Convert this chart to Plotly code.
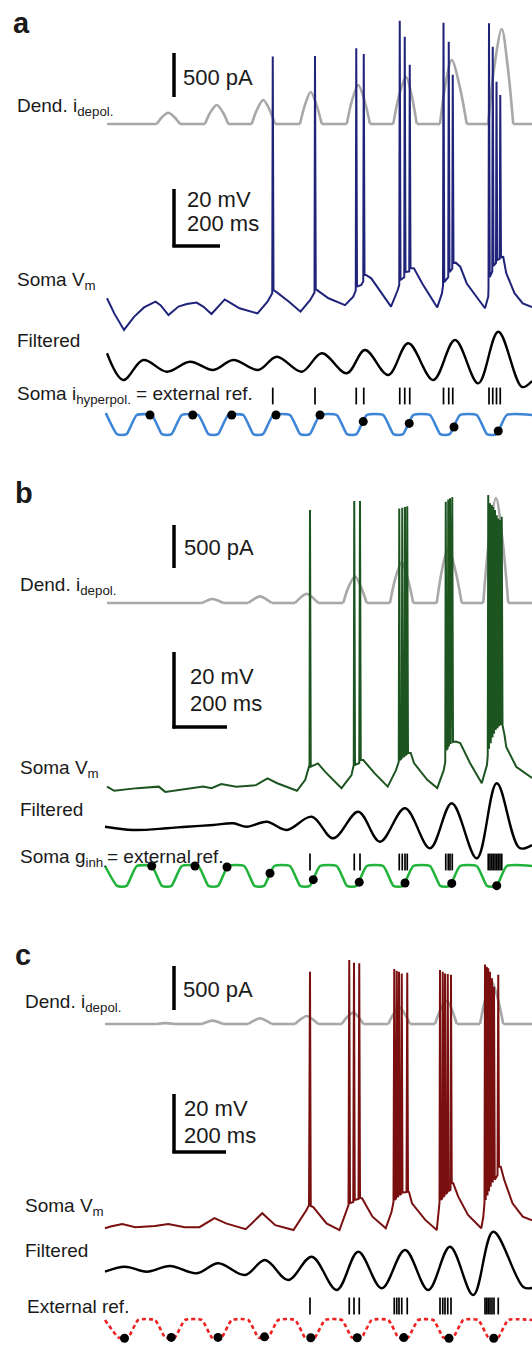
import plotly.graph_objects as go

W, H = 532, 1345
T_LEFT, T_RIGHT = -428, 1700          # ms at the left / right edge of the page

# ---------------- Panel a ----------------
DEND_A_T = [0, 199, 220, 245, 270, 292, 392, 413, 439, 464, 485, 579, 600, 625, 650, 672,
            772, 792, 815, 838, 859, 959, 980, 1005, 1030, 1052, 1145, 1168, 1196, 1219, 1239,
            1332, 1353, 1379, 1410, 1439, 1525, 1549, 1579, 1603, 1625, 1700]
DEND_A_V = [0, 0, 77, 128, 77, 0, 0, 130, 216, 130, 0, 0, 164, 273, 164, 0,
            0, 218, 364, 218, 0, 0, 266, 443, 266, 0, 0, 320, 534, 320, 0,
            0, 436, 727, 436, 0, 0, 648, 1080, 648, 0, 0]

VM_A_T = [0, 29, 68, 108, 148, 194, 214, 246, 286, 319, 358, 385, 418, 444, 471, 497, 530, 602, 642, 661,
          663, 666, 681, 728, 774, 813, 830,
          832, 835, 886, 952, 985, 995,
          997, 1000, 1017, 1025,
          1027, 1030, 1057, 1097, 1136, 1163, 1169,
          1171, 1174, 1189,
          1191, 1194, 1209,
          1211, 1214, 1228, 1261, 1321, 1340, 1344,
          1346, 1349, 1365,
          1367, 1370, 1381,
          1383, 1386, 1395, 1413, 1439, 1512, 1525, 1526,
          1528, 1531, 1541,
          1543, 1546, 1556,
          1558, 1561, 1571,
          1573, 1576, 1585, 1597, 1630, 1663, 1700]
VM_A_V = [-59.4, -64.7, -70.5, -65.9, -62.6, -60.6, -61.8, -65.3, -62.3, -61.4, -60.9, -62.3, -64.9, -62.3, -59.8, -61.2, -62.9, -64.7, -60.6, -57.6,
          25.4, -56.5, -57.4, -60.6, -64.1, -60.0, -57.4,
          25.6, -56.2, -59.4, -61.8, -58.8, -56.7,
          28.3, -55.3, -54.7, -53.5,
          26.3, -50.9, -52.4, -57.6, -62.3, -56.5, -54.7,
          38.0, -53.0, -52.0,
          32.4, -50.2, -50.0,
          22.5, -48.8, -48.9, -54.2, -62.6, -57.6, -55.0,
          37.3, -53.7, -52.0,
          30.6, -50.2, -49.0,
          19.0, -47.0, -46.9, -48.3, -54.2, -62.9, -58.8, -56.0,
          37.1, -52.0, -50.0,
          28.9, -48.0, -47.0,
          16.6, -46.0, -45.5,
          11.9, -45.0, -44.9, -50.6, -57.6, -61.2, -62.5]

FILT_A_T = [0, 65, 145, 239, 332, 425, 505, 605, 679, 779, 859, 959, 1032, 1125, 1205, 1305, 1392, 1485, 1565, 1660, 1700]
FILT_A_V = [1.17, -1.5, 0.5, -0.67, 0.33, -0.5, 0.5, -0.5, 0.83, -0.67, 1.17, -0.83, 1.5, -1.0, 2.17, -1.5, 2.5, -1.83, 3.33, -2.2, -1.6]

REF_A_T = [-5, 39, 59, 79, 119, 179, 219, 239, 259, 299, 365, 405, 425, 445, 485, 545, 585, 605, 625, 665,
           732, 772, 792, 812, 852, 919, 959, 979, 999, 1039, 1105, 1145, 1165, 1185, 1225,
           1292, 1332, 1352, 1372, 1412, 1479, 1519, 1539, 1559, 1599, 1700]
REF_A_V = [0.1, -0.95, -1, -0.95, 0, 0, -0.95, -1, -0.95, 0, 0, -0.95, -1, -0.95, 0, 0, -0.95, -1, -0.95, 0,
           0, -0.95, -1, -0.95, 0, 0, -0.95, -1, -0.95, 0, 0, -0.95, -1, -0.95, 0,
           0, -0.95, -1, -0.95, 0, 0, -0.95, -1, -0.95, 0, 0]
DOT_A_T = [172, 343, 499, 676, 852, 1025, 1209, 1388, 1565]
DOT_A_V = [0, 0, 0, 0, 0, -0.33, -0.42, -0.6, -0.8]

# ---------------- Panel b ----------------
DEND_B_T = [0, 379, 400, 421, 444, 465, 565, 588, 612, 636, 659, 752, 775, 799, 822, 845,
            945, 966, 992, 1016, 1039, 1132, 1153, 1179, 1203, 1225, 1319, 1340, 1365, 1393, 1419,
            1505, 1528, 1556, 1582, 1605, 1700]
DEND_B_V = [0, 0, 28, 47, 28, 0, 0, 46, 77, 46, 0, 0, 65, 108, 65, 0,
            0, 185, 309, 185, 0, 0, 283, 472, 283, 0, 0, 384, 640, 384, 0,
            0, 733, 1221, 733, 0, 0]

VM_B_T = [0, 29, 121, 207, 233, 306, 385, 418, 457, 517, 596, 642, 681, 760, 793, 810,
          812, 815, 844, 872, 938, 978, 987,
          989, 992, 1009,
          1012, 1015, 1025, 1070, 1123, 1156, 1167,
          1169, 1172, 1179,
          1181, 1184, 1190,
          1192, 1195, 1199,
          1201, 1204, 1215, 1228, 1281, 1321, 1347, 1353,
          1355, 1358, 1363,
          1365, 1368,
          1372, 1375,
          1381, 1384, 1395, 1413, 1452, 1499, 1520, 1523,
          1525, 1528, 1532, 1535, 1539, 1542, 1545, 1548, 1552, 1555,
          1559, 1562, 1565, 1568, 1572, 1575, 1579, 1582,
          1590, 1597, 1637, 1671, 1700]
VM_B_V = [-64.1, -65.2, -64.5, -64.1, -65.5, -64.8, -64.1, -64.5, -63.4, -64.1, -63.7, -61.9, -63.2, -65.2, -62.3, -58.3,
          9.7, -58.8, -57.9, -60.1, -64.5, -61.0, -58.3,
          12.1, -58.3, -57.8,
          12.1, -57.0, -57.0, -60.5, -64.1, -59.7, -57.5,
          10.1, -57.0, -56.5,
          10.3, -56.2, -55.9,
          10.5, -55.7, -55.4,
          10.7, -55.1, -55.1, -57.8, -62.3, -64.5, -59.7, -57.5,
          11.9, -54.3, -53.8,
          12.5, -53.3,
          12.8, -52.7,
          13.1, -52.2, -52.1, -52.5, -57.8, -63.2, -58.3, -55.7,
          13.7, -54.0, 11.5, -52.5, 11.0, -51.0, 10.5, -50.0, 9.7, -49.0,
          8.3, -48.5, 7.4, -48.0, 7.0, -47.7, 7.9, -47.7,
          -50.3, -53.5, -58.8, -60.5, -61.8]

FILT_B_T = [-8, 105, 239, 319, 425, 505, 559, 639, 719, 819, 905, 1005, 1092, 1192, 1292, 1379, 1479, 1559, 1650, 1700]
FILT_B_V = [-0.07, -0.4, -0.23, -0.07, 0.1, 0.27, -0.07, 0.43, -0.4, 0.93, -1.23, 1.43, -1.57, 1.77, -2.23, 2.27, -3.23, 4.27, -2.2, -1.9]

REF_B_T = [-8, 39, 59, 79, 119, 179, 219, 239, 259, 299, 365, 405, 425, 445, 485, 549, 589, 609, 629, 669,
           732, 772, 792, 812, 852, 919, 959, 979, 999, 1039, 1105, 1145, 1165, 1185, 1225,
           1292, 1332, 1352, 1372, 1412, 1479, 1519, 1539, 1559, 1599, 1700]
REF_B_V = [0.0, -0.95, -1, -0.95, 0, 0, -0.95, -1, -0.95, 0, 0, -0.95, -1, -0.95, 0, 0, -0.95, -1, -0.95, 0,
           0, -0.95, -1, -0.95, 0, 0, -0.95, -1, -0.95, 0, 0, -0.95, -1, -0.95, 0,
           0, -0.95, -1, -0.95, 0, 0, -0.95, -1, -0.95, 0, 0]
DOT_B_T = [179, 352, 480, 652, 825, 1009, 1192, 1379, 1559]
DOT_B_V = [0, 0, -0.05, -0.35, -0.66, -0.78, -0.82, -0.84, -0.95]

# ---------------- Panel c ----------------
DEND_C_T = [-8, 199, 232, 272, 379, 400, 421, 444, 465, 565, 588, 612, 636, 659, 752, 775, 799, 822, 845,
            939, 960, 985, 1006, 1025, 1125, 1146, 1169, 1191, 1212, 1312, 1333, 1359, 1380, 1399,
            1492, 1514, 1539, 1563, 1585, 1700]
DEND_C_V = [0, 0, 10, 0, 0, 23, 38, 23, 0, 0, 39, 65, 39, 0, 0, 55, 91, 55, 0,
            0, 77, 129, 77, 0, 0, 114, 190, 114, 0, 0, 159, 265, 159, 0,
            0, 289, 482, 289, 0, 0]

VM_C_T = [-8, 14, 61, 113, 192, 245, 311, 370, 430, 476, 555, 621, 673, 746, 798, 808,
          812, 815, 825, 878, 930, 955, 966,
          969, 972, 985,
          988, 991, 1006,
          1009, 1012, 1020, 1062, 1115, 1138, 1146,
          1149, 1152, 1156,
          1159, 1162, 1165,
          1168, 1171, 1176,
          1179, 1182, 1198,
          1201, 1204, 1208, 1220, 1273, 1319, 1328, 1330,
          1332, 1335, 1341,
          1343, 1346, 1350,
          1352, 1355, 1361,
          1363, 1366, 1374,
          1376, 1379, 1385, 1405, 1444, 1497, 1505, 1510,
          1512, 1515, 1519, 1522, 1525, 1528, 1532, 1535, 1540, 1543, 1548, 1551, 1562,
          1565, 1568, 1575, 1589, 1622, 1663, 1700]
VM_C_V = [-65.8, -65.2, -64.3, -65.4, -65.0, -64.3, -65.4, -65.4, -62.3, -64.1, -66.1, -60.6, -64.7, -66.4, -59.5, -57.8,
          22.7, -58.1, -58.5, -64.1, -66.4, -60.5, -57.8,
          26.7, -57.1, -56.7,
          25.8, -56.0, -55.7,
          25.6, -55.3, -55.4, -61.8, -65.8, -60.2, -56.7,
          23.6, -56.0, -55.5,
          23.0, -55.0, -54.7,
          22.7, -54.3, -54.0,
          22.1, -53.5, -53.3,
          22.3, -53.2, -53.3, -57.2, -62.9, -66.4, -60.0, -57.0,
          23.3, -56.0, -55.5,
          22.7, -55.0, -54.5,
          22.1, -54.0, -53.5,
          21.9, -53.0, -52.5,
          21.6, -50.3, -50.3, -54.9, -61.2, -65.8, -62.0, -57.0,
          25.2, -56.0, 24.4, -54.5, 23.9, -53.0, 22.7, -51.5, 20.4, -50.0, 17.5, -49.0, -47.5,
          21.6, -44.6, -44.6, -49.1, -57.2, -61.8, -63.0]

FILT_C_T = [-8, 72, 159, 252, 359, 445, 552, 632, 725, 819, 919, 1005, 1099, 1192, 1285, 1372, 1465, 1545, 1665, 1700]
FILT_C_V = [-0.07, 0.43, -0.07, 0.5, -0.23, 0.77, -0.4, 1.1, -0.9, 1.43, -1.9, 1.93, -1.73, 2.1, -1.9, 2.43, -2.4, 3.93, -1.6, -1.7]

REF_C_T = [-8, 45, 65, 85, 125, 192, 232, 252, 272, 312, 379, 419, 439, 459, 499, 565, 605, 625, 645, 685,
           752, 792, 812, 832, 872, 939, 979, 999, 1019, 1059, 1125, 1165, 1185, 1205, 1245,
           1305, 1345, 1365, 1385, 1425, 1485, 1525, 1545, 1565, 1605, 1700]
REF_C_V = [0.0, -0.95, -1, -0.95, 0, 0, -0.95, -1, -0.95, 0, 0, -0.95, -1, -0.95, 0, 0, -0.95, -1, -0.95, 0,
           0, -0.95, -1, -0.95, 0, 0, -0.95, -1, -0.95, 0, 0, -0.95, -1, -0.95, 0,
           0, -0.95, -1, -0.95, 0, 0, -0.95, -1, -0.95, 0, 0]
DOT_C_T = [70, 257, 444, 630, 815, 1001, 1187, 1368, 1547]
DOT_C_V = [-1, -0.95, -0.95, -0.92, -0.97, -0.97, -0.96, -1, -1]

# ---------------- styling / placement ----------------
GRAY = "#a8a8a8"
FONT = "Liberation Sans, Arial, Helvetica, sans-serif"

PANELS = [
    dict(letter="a", dend=(DEND_A_T, DEND_A_V), vm=(VM_A_T, VM_A_V), filt=(FILT_A_T, FILT_A_V),
         ref=(REF_A_T, REF_A_V), dots=(DOT_A_T, DOT_A_V),
         vm_color="#1f237a", ref_color="#3d85d6", ref_dash="solid",
         # (value, pixel row, pixels per unit)
         place=dict(dend=(0, 124, 44 / 500), vm=(-60, 300, 2.85), filt=(0, 365, 10), ref=(0, 415, 20)),
         raster_y=396, pa_bottom=97, mv_bottom=246, hbar_px=46,
         labels=[("a", 11, 23, 29, True),
                 ("500 pA", 181, 77, 22, False),
                 ("Dend. i<sub>depol.</sub>", 15, 107, 19, False),
                 ("20 mV", 185, 199, 22, False),
                 ("200 ms", 185, 224, 22, False),
                 ("Soma V<sub>m</sub>", 15, 281, 19, False),
                 ("Filtered", 15, 341, 19, False),
                 ("Soma i<sub>hyperpol.</sub> = external ref.", 15, 395, 19, False)]),
    dict(letter="b", dend=(DEND_B_T, DEND_B_V), vm=(VM_B_T, VM_B_V), filt=(FILT_B_T, FILT_B_V),
         ref=(REF_B_T, REF_B_V), dots=(DOT_B_T, DOT_B_V),
         vm_color="#1d5521", ref_color="#22b33b", ref_dash="solid",
         place=dict(dend=(0, 603, 43 / 500), vm=(-65, 790, 3.75), filt=(0, 826, 10), ref=(0, 866, 20.7)),
         raster_y=862, pa_bottom=568, mv_bottom=727, hbar_px=53,
         labels=[("b", 13, 493, 29, True),
                 ("500 pA", 182, 548, 22, False),
                 ("Dend. i<sub>depol.</sub>", 18, 586, 19, False),
                 ("20 mV", 188, 676, 22, False),
                 ("200 ms", 188, 703, 22, False),
                 ("Soma V<sub>m</sub>", 18, 769, 19, False),
                 ("Filtered", 18, 809, 19, False),
                 ("Soma g<sub>inh.</sub>= external ref.", 18, 858, 19, False)]),
    dict(letter="c", dend=(DEND_C_T, DEND_C_V), vm=(VM_C_T, VM_C_V), filt=(FILT_C_T, FILT_C_V),
         ref=(REF_C_T, REF_C_V), dots=(DOT_C_T, DOT_C_V),
         vm_color="#7a0f0f", ref_color="#ee2222", ref_dash="4px,3px",
         place=dict(dend=(0, 1024, 44 / 500), vm=(-65, 1226, 2.9), filt=(0, 1271, 10), ref=(0, 1320, 18.3)),
         raster_y=1306, pa_bottom=1010, mv_bottom=1152, hbar_px=52,
         labels=[("c", 13, 955, 29, True),
                 ("500 pA", 181, 989, 22, False),
                 ("Dend. i<sub>depol.</sub>", 23, 1003, 19, False),
                 ("20 mV", 182, 1108, 22, False),
                 ("200 ms", 182, 1135, 22, False),
                 ("Soma V<sub>m</sub>", 23, 1207, 19, False),
                 ("Filtered", 23, 1250, 19, False),
                 ("External ref.", 25, 1306, 19, False)]),
]

MS_PER_PX = (T_RIGHT - T_LEFT) / W


def t_at(xpx):
    return T_LEFT + xpx * MS_PER_PX


def yrange(v0, y0, s):
    return [v0 - (H - y0) / s, v0 + y0 / s]


def val_at(p, ypx):
    v0, y0, s = p
    return v0 + (y0 - ypx) / s


def split_bumps(ts, vs):
    """Split a baseline-with-bumps series into baseline pieces and bump pieces."""
    base_x, base_y, bumps = [], [], []
    i, n = 0, len(ts)
    while i < n:
        if vs[i] == 0 and (i + 1 < n and vs[i + 1] != 0):
            j = i + 1
            while j < n and vs[j] != 0:
                j += 1
            j = min(j, n - 1)
            base_x += [ts[i], None]
            base_y += [vs[i], None]
            bumps.append((ts[i:j + 1], vs[i:j + 1]))
            i = j
        else:
            base_x.append(ts[i])
            base_y.append(vs[i])
            i += 1
    return base_x, base_y, bumps


fig = go.Figure()
layout_axes = {"yaxis": dict(range=[H, 0], domain=[0, 1], visible=False, fixedrange=True)}
shapes, annotations = [], []
ax_n = 1
BAR_X = 174

for P in PANELS:
    ax = {}
    for key in ["dend", "vm", "filt", "ref"]:
        ax_n += 1
        ax[key] = f"y{ax_n}"
        layout_axes[f"yaxis{ax_n}"] = dict(range=yrange(*P["place"][key]), domain=[0, 1],
                                          overlaying="y", anchor="x", visible=False, fixedrange=True)
    for key, arr in [("dend", P["dend"]), ("vm", P["vm"]), ("filt", P["filt"]), ("ref", P["ref"])]:
        assert len(arr[0]) == len(arr[1]), (P["letter"], key, len(arr[0]), len(arr[1]))

    # dendritic current: straight baseline + smooth bumps
    bx, by, bumps = split_bumps(*P["dend"])
    fig.add_trace(go.Scatter(x=bx, y=by, yaxis=ax["dend"], mode="lines", connectgaps=False,
                             line=dict(color=GRAY, width=2.6), hoverinfo="skip"))
    for tx, vy in bumps:
        fig.add_trace(go.Scatter(x=tx, y=vy, yaxis=ax["dend"], mode="lines",
                                 line=dict(color=GRAY, width=2.6, shape="spline", smoothing=0.9),
                                 hoverinfo="skip"))
    # soma Vm
    fig.add_trace(go.Scatter(x=P["vm"][0], y=P["vm"][1], yaxis=ax["vm"], mode="lines",
                             line=dict(color=P["vm_color"], width=2.0), hoverinfo="skip"))
    # filtered
    fig.add_trace(go.Scatter(x=P["filt"][0], y=P["filt"][1], yaxis=ax["filt"], mode="lines",
                             line=dict(color="black", width=2.4, shape="spline", smoothing=1.0),
                             hoverinfo="skip"))
    # external reference
    fig.add_trace(go.Scatter(x=P["ref"][0], y=P["ref"][1], yaxis=ax["ref"], mode="lines",
                             line=dict(color=P["ref_color"], width=2.6, shape="spline", smoothing=0.5,
                                       dash=P["ref_dash"]), hoverinfo="skip"))
    # phase dots
    fig.add_trace(go.Scatter(x=P["dots"][0], y=P["dots"][1], yaxis=ax["ref"], mode="markers",
                             marker=dict(color="black", size=9), hoverinfo="skip"))
    # spike raster (spike times = Vm samples above 0 mV)
    spikes = [t for t, v in zip(*P["vm"]) if v > 0]
    fig.add_trace(go.Scatter(x=spikes, y=[P["raster_y"]] * len(spikes), yaxis="y", mode="markers",
                             marker=dict(symbol="line-ns", size=12, line=dict(color="black", width=1.7)),
                             hoverinfo="skip"))

    # scale bars
    pd, pv = P["place"]["dend"], P["place"]["vm"]
    y0 = val_at(pd, P["pa_bottom"])
    shapes.append(dict(type="line", xref="x", yref=ax["dend"], x0=t_at(BAR_X), x1=t_at(BAR_X),
                       y0=y0, y1=y0 + 500, line=dict(color="black", width=3.5)))
    v0 = val_at(pv, P["mv_bottom"])
    shapes.append(dict(type="line", xref="x", yref=ax["vm"], x0=t_at(BAR_X), x1=t_at(BAR_X),
                       y0=v0 - 0.4, y1=v0 + 20, line=dict(color="black", width=3.5)))
    shapes.append(dict(type="line", xref="x", yref=ax["vm"], x0=t_at(BAR_X - 1.5),
                       x1=t_at(BAR_X) + P["hbar_px"] * MS_PER_PX,
                       y0=v0, y1=v0, line=dict(color="black", width=3.5)))

    for text, xp, yp, size, bold in P["labels"]:
        annotations.append(dict(text=f"<b>{text}</b>" if bold else text, xref="paper", yref="paper",
                                x=xp / W, y=1 - yp / H, xanchor="left", yanchor="middle",
                                showarrow=False, font=dict(family=FONT, size=size, color="#1a1a1a")))

fig.update_layout(
    width=W, height=H, margin=dict(l=0, r=0, t=0, b=0),
    paper_bgcolor="white", plot_bgcolor="white", showlegend=False,
    xaxis=dict(range=[T_LEFT, T_RIGHT], visible=False, fixedrange=True),
    shapes=shapes, annotations=annotations, font=dict(family=FONT),
    **layout_axes,
)

fig.write_html("out.html", config={"displayModeBar": False, "staticPlot": True},
               post_script="document.body.style.margin='0px';document.body.style.overflow='hidden';")
